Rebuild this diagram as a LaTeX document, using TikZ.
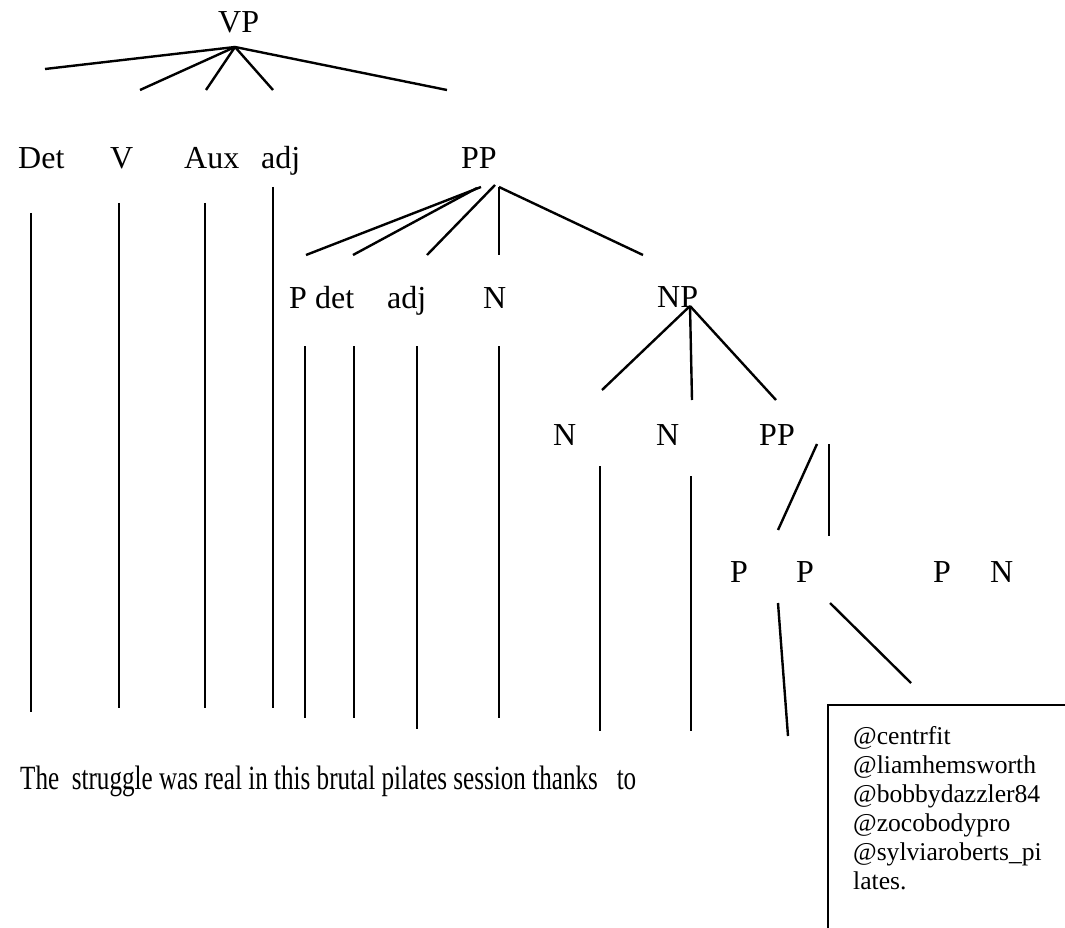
\documentclass[tikz,border=0pt]{standalone}
\usepackage{fontspec}
\setmainfont{Liberation Serif}
\usepackage{graphicx}
\tikzset{
  lbl/.style={anchor=base west, inner sep=0pt, font=\fontsize{32}{38}\selectfont},
  sent/.style={anchor=base west, inner sep=0pt, font=\fontsize{32}{38}\selectfont},
  handles/.style={anchor=north west, inner sep=0pt, align=left, font=\fontsize{25.6}{29}\selectfont},
  branch/.style={line width=2.4pt},
  boxline/.style={line width=2.2pt}
}
\begin{document}
\begin{tikzpicture}[x=1pt,y=-1pt]
\useasboundingbox (0,0) rectangle (1065,928);
% labels
\node[lbl] (VP) at (218,33) {VP};
\node[lbl] (Det) at (18,169) {Det};
\node[lbl] (V) at (110,169) {V};
\node[lbl] (Aux) at (184,169) {Aux};
\node[lbl] (adjA) at (261,169) {adj};
\node[lbl] (PPa) at (461,169) {PP};
\node[lbl] (Pb) at (289,308) {P};
\node[lbl] (detb) at (315,308) {det};
\node[lbl] (adjB) at (387,308) {adj};
\node[lbl] (Nb) at (483,308) {N};
\node[lbl] (NP) at (657,307) {NP};
\node[lbl] (Nc) at (553,445) {N};
\node[lbl] (Nd) at (656,445) {N};
\node[lbl] (PPb) at (759,445) {PP};
\node[lbl] (Pe) at (730,582) {P};
\node[lbl] (Pf) at (796,582) {P};
\node[lbl] (Pg) at (933,582) {P};
\node[lbl] (Nh) at (990,582) {N};
% sentence
\node[sent] (sentence) at (20,789) {\scalebox{0.785}[1.06]{The\ \ struggle was real in this brutal pilates session thanks\ \ \ to}};
% handles box
\node[handles] (tags) at (853,726) {@centrfit\\@liamhemsworth\\@bobbydazzler84\\@zocobodypro\\@sylviaroberts\_pi\\lates.};
\begin{scope}
\clip (0,0) rectangle (1065,928);
\coordinate (boxA) at (828,705);
\coordinate (boxB) at (1100,960);
\draw[boxline] (boxA) rectangle (boxB);
\end{scope}
% VP branches
\coordinate (vp) at (235,47);
\coordinate (vp1) at (45,69);
\coordinate (vp2) at (140,90);
\coordinate (vp3) at (206,90);
\coordinate (vp4) at (273,90);
\coordinate (vp5) at (447,90);
\foreach \e in {vp1,vp2,vp3,vp4,vp5} \draw[branch] (vp) -- (\e);
% verticals under first row
\coordinate (d1) at (31,213); \coordinate (d2) at (31,712);
\coordinate (v1) at (119,203); \coordinate (v2) at (119,708);
\coordinate (a1) at (205,203); \coordinate (a2) at (205,708);
\coordinate (j1) at (273,187); \coordinate (j2) at (273,708);
\draw[branch] (d1) -- (d2);
\draw[branch] (v1) -- (v2);
\draw[branch] (a1) -- (a2);
\draw[branch] (j1) -- (j2);
% PP branches
\coordinate (pp1s) at (481,187); \coordinate (pp1e) at (306,255);
\coordinate (pp2s) at (477,188); \coordinate (pp2e) at (353,255);
\coordinate (pp3s) at (495,185); \coordinate (pp3e) at (427,255);
\coordinate (pp4s) at (499,187); \coordinate (pp4e) at (499,255);
\coordinate (pp5e) at (643,255);
\draw[branch] (pp1s) -- (pp1e);
\draw[branch] (pp2s) -- (pp2e);
\draw[branch] (pp3s) -- (pp3e);
\draw[branch] (pp4s) -- (pp4e);
\draw[branch] (pp4s) -- (pp5e);
% verticals under second row
\coordinate (p1) at (305,346); \coordinate (p2) at (305,718);
\coordinate (t1) at (354,346); \coordinate (t2) at (354,718);
\coordinate (k1) at (417,346); \coordinate (k2) at (417,729);
\coordinate (n1) at (499,346); \coordinate (n2) at (499,718);
\draw[branch] (p1) -- (p2);
\draw[branch] (t1) -- (t2);
\draw[branch] (k1) -- (k2);
\draw[branch] (n1) -- (n2);
% NP branches
\coordinate (np) at (690,306);
\coordinate (np1) at (602,390);
\coordinate (np2) at (692,400);
\coordinate (np3) at (776,400);
\foreach \e in {np1,np2,np3} \draw[branch] (np) -- (\e);
% verticals under third row
\coordinate (m1) at (600,466); \coordinate (m2) at (600,731);
\coordinate (o1) at (691,476); \coordinate (o2) at (691,731);
\draw[branch] (m1) -- (m2);
\draw[branch] (o1) -- (o2);
% PP (lower) branches
\coordinate (q1) at (817,444); \coordinate (q2) at (778,530);
\coordinate (r1) at (829,444); \coordinate (r2) at (829,536);
\draw[branch] (q1) -- (q2);
\draw[branch] (r1) -- (r2);
% P branches
\coordinate (s1) at (778,603); \coordinate (s2) at (788,736);
\coordinate (u1) at (830,603); \coordinate (u2) at (911,683);
\draw[branch] (s1) -- (s2);
\draw[branch] (u1) -- (u2);
\end{tikzpicture}
\end{document}
